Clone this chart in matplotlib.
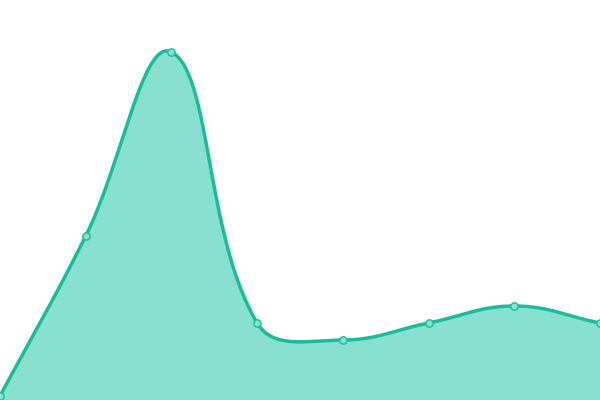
import numpy as np
import matplotlib
matplotlib.use('Agg')
import matplotlib.pyplot as plt

# --- Données ---
x_vals = [0, 1, 2, 3, 4, 5, 6, 7]
y_vals = [4, 164, 348, 77, 60, 77, 94, 77]

LINE = '#1abc9c'
FILL = '#88e0cf'
TENSION = 0.4
W, H = 600, 400


def spline(xs, ys, n=80):
    """Courbe lissée façon Chart.js (tension, distances en pixels)."""
    xs = np.asarray(xs, float)
    ys = np.asarray(ys, float)
    kx = W / (xs[-1] - xs[0])  # pixels par unité x
    px, py = xs * kx, ys
    N = len(px)
    cp_prev, cp_next = [], []
    for i in range(N):
        a = max(i - 1, 0)
        b = min(i + 1, N - 1)
        d01 = np.hypot(px[i] - px[a], py[i] - py[a])
        d12 = np.hypot(px[b] - px[i], py[b] - py[i])
        s = d01 + d12
        fa = TENSION * d01 / s if s else 0
        fb = TENSION * d12 / s if s else 0
        dx, dy = px[b] - px[a], py[b] - py[a]
        cp_prev.append((px[i] - fa * dx, py[i] - fa * dy))
        cp_next.append((px[i] + fb * dx, py[i] + fb * dy))
    t = np.linspace(0, 1, n)[:, None]
    pts = []
    for i in range(N - 1):
        p0 = np.array([px[i], py[i]])
        p1 = np.array(cp_next[i])
        p2 = np.array(cp_prev[i + 1])
        p3 = np.array([px[i + 1], py[i + 1]])
        seg = ((1 - t)**3) * p0 + 3 * ((1 - t)**2) * t * p1 + 3 * (1 - t) * t**2 * p2 + t**3 * p3
        pts.append(seg)
    pts = np.vstack(pts)
    return pts[:, 0] / kx, pts[:, 1]


sx, sy = spline(x_vals, y_vals)

fig = plt.figure(figsize=(6, 4), dpi=100)
ax = fig.add_axes([0, 0, 1, 1])
ax.fill_between(sx, sy, 0, color=FILL, lw=0)
ax.plot(sx, sy, color=LINE, lw=2.5, solid_capstyle='round')
ax.scatter(x_vals, y_vals, s=28, facecolor=FILL, edgecolor=LINE, lw=1, zorder=3)

ax.set_xlim(0, 7)
ax.set_ylim(0, 400)
ax.axis('off')

fig.savefig('out.png', dpi=100)
